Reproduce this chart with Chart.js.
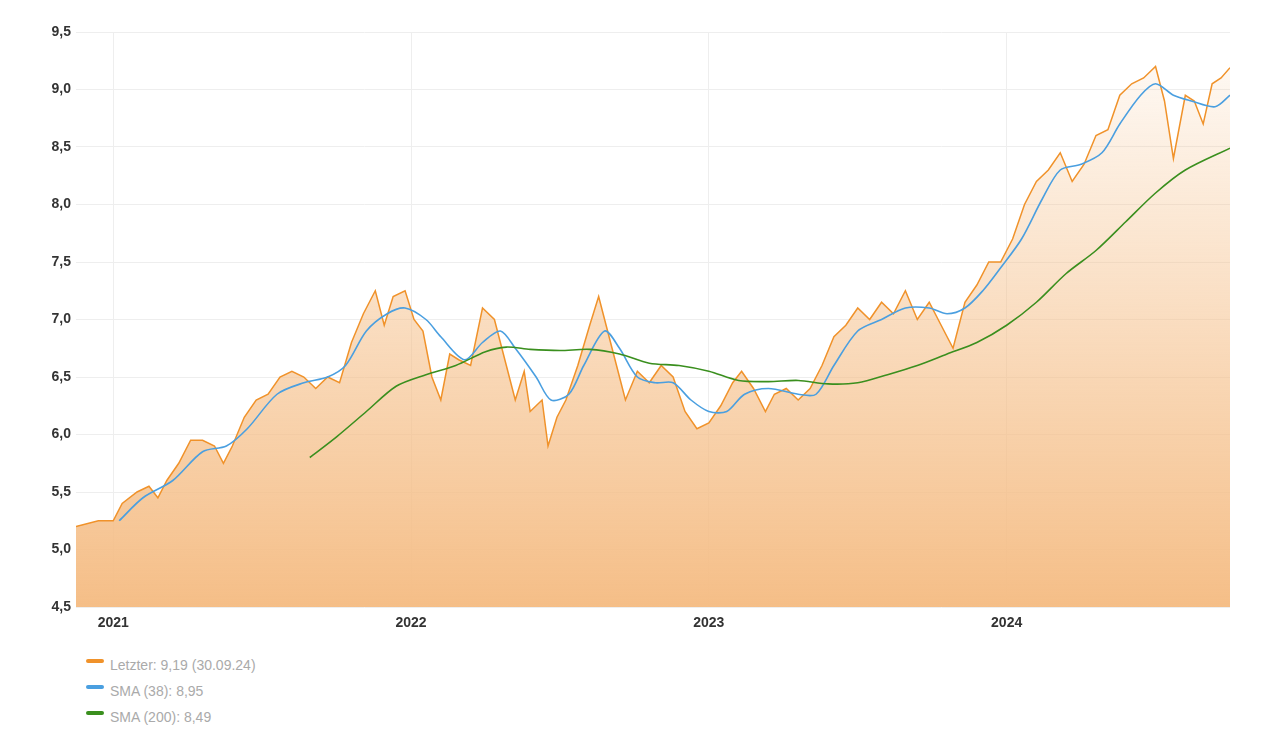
<!DOCTYPE html>
<html>
<head>
<meta charset="utf-8">
<script src="https://cdn.jsdelivr.net/npm/chart.js@4.4.0/dist/chart.umd.min.js"></script>
<style>
  body { margin: 0; background: #fff; font-family: "Liberation Sans", Arial, sans-serif; }
  #wrap { position: relative; width: 1280px; height: 632px; }
  #legend { margin-left: 86px; margin-top: 20px; color: #aaa; font-size: 14px; }
  #legend div { height: 26px; line-height: 26px; }
  #legend span { display: inline-block; width: 18px; height: 4px; border-radius: 2px; vertical-align: middle; margin-right: 6px; position: relative; top: -5px; }
</style>
</head>
<body>
<div id="wrap"><canvas id="chart"></canvas></div>
<div id="legend">
  <div><span style="background:#f0922a"></span>Letzter: 9,19 (30.09.24)</div>
  <div><span style="background:#4a9fe0"></span>SMA (38): 8,95</div>
  <div><span style="background:#3a8f1e"></span>SMA (200): 8,49</div>
</div>
<script>
const priceX = [2020.875,2020.95,2021.0,2021.03,2021.08,2021.12,2021.15,2021.18,2021.22,2021.26,2021.3,2021.34,2021.37,2021.40,2021.44,2021.48,2021.52,2021.56,2021.60,2021.64,2021.68,2021.72,2021.76,2021.80,2021.84,2021.88,2021.91,2021.94,2021.98,2022.01,2022.04,2022.07,2022.10,2022.13,2022.16,2022.20,2022.24,2022.28,2022.32,2022.35,2022.38,2022.40,2022.44,2022.46,2022.49,2022.52,2022.56,2022.60,2022.63,2022.66,2022.69,2022.72,2022.76,2022.80,2022.84,2022.88,2022.92,2022.96,2023.0,2023.04,2023.08,2023.11,2023.15,2023.19,2023.22,2023.26,2023.30,2023.34,2023.38,2023.42,2023.46,2023.50,2023.54,2023.58,2023.62,2023.66,2023.70,2023.74,2023.78,2023.82,2023.86,2023.90,2023.94,2023.98,2024.02,2024.06,2024.10,2024.14,2024.18,2024.22,2024.26,2024.30,2024.34,2024.38,2024.42,2024.46,2024.50,2024.53,2024.56,2024.60,2024.63,2024.66,2024.69,2024.72,2024.75];
const priceY = [5.2,5.25,5.25,5.4,5.5,5.55,5.45,5.6,5.75,5.95,5.95,5.9,5.75,5.9,6.15,6.3,6.35,6.5,6.55,6.5,6.4,6.5,6.45,6.8,7.05,7.25,6.95,7.2,7.25,7.0,6.9,6.5,6.3,6.7,6.65,6.6,7.1,7.0,6.6,6.3,6.55,6.2,6.3,5.9,6.15,6.3,6.6,6.95,7.2,6.9,6.6,6.3,6.55,6.45,6.6,6.5,6.2,6.05,6.1,6.25,6.45,6.55,6.4,6.2,6.35,6.4,6.3,6.4,6.6,6.85,6.95,7.1,7.0,7.15,7.05,7.25,7.0,7.15,6.95,6.75,7.15,7.3,7.5,7.5,7.7,8.0,8.2,8.3,8.45,8.2,8.35,8.6,8.65,8.95,9.05,9.1,9.2,8.9,8.4,8.95,8.9,8.7,9.05,9.1,9.19];
const sma38X = [2021.02,2021.1,2021.2,2021.3,2021.38,2021.45,2021.55,2021.64,2021.72,2021.78,2021.85,2021.92,2021.98,2022.05,2022.1,2022.18,2022.24,2022.3,2022.35,2022.42,2022.47,2022.53,2022.58,2022.65,2022.7,2022.76,2022.82,2022.88,2022.94,2023.0,2023.06,2023.12,2023.2,2023.3,2023.36,2023.42,2023.5,2023.58,2023.66,2023.74,2023.8,2023.86,2023.92,2023.98,2024.05,2024.12,2024.18,2024.25,2024.32,2024.38,2024.45,2024.5,2024.56,2024.62,2024.7,2024.75];
const sma38Y = [5.25,5.45,5.6,5.85,5.9,6.05,6.35,6.45,6.5,6.6,6.9,7.05,7.1,7.0,6.85,6.65,6.8,6.9,6.75,6.5,6.3,6.35,6.6,6.9,6.75,6.5,6.45,6.45,6.3,6.2,6.2,6.35,6.4,6.35,6.35,6.6,6.9,7.0,7.1,7.1,7.05,7.1,7.25,7.45,7.7,8.05,8.3,8.35,8.45,8.7,8.95,9.05,8.95,8.9,8.85,8.95];
const sma200X = [2021.66,2021.75,2021.85,2021.95,2022.05,2022.15,2022.25,2022.32,2022.4,2022.5,2022.6,2022.7,2022.8,2022.9,2023.0,2023.1,2023.2,2023.3,2023.4,2023.5,2023.6,2023.7,2023.8,2023.9,2024.0,2024.1,2024.2,2024.3,2024.4,2024.5,2024.6,2024.75];
const sma200Y = [5.8,5.98,6.2,6.42,6.52,6.6,6.72,6.76,6.74,6.73,6.74,6.7,6.62,6.6,6.55,6.47,6.46,6.47,6.44,6.45,6.52,6.6,6.7,6.8,6.95,7.15,7.4,7.6,7.85,8.1,8.3,8.49];
const yearTicks = [2021, 2022, 2023, 2024];

const pts = (xs, ys) => xs.map((x, i) => ({ x: x, y: ys[i] }));

const ctx = document.getElementById('chart').getContext('2d');
new Chart(ctx, {
    type: 'line',
    data: {
        datasets: [
            {
                data: pts(sma200X, sma200Y),
                borderColor: '#3a8f1e', borderWidth: 1.6, pointRadius: 0, tension: 0.3, fill: false
            },
            {
                data: pts(sma38X, sma38Y),
                borderColor: '#4a9fe0', borderWidth: 1.6, pointRadius: 0, tension: 0.3, fill: false
            },
            {
                data: pts(priceX, priceY),
                borderColor: '#f0922a', borderWidth: 1.5, pointRadius: 0, tension: 0,
                fill: 'start',
                backgroundColor: function (c) {
                    const a = c.chart.chartArea;
                    if (!a) return 'rgba(245,190,135,0.5)';
                    const g = c.chart.ctx.createLinearGradient(0, a.top, 0, a.bottom);
                    g.addColorStop(0, 'rgba(245,190,135,0.05)');
                    g.addColorStop(1, 'rgba(245,190,135,1)');
                    return g;
                }
            }
        ]
    },
    options: {
        responsive: true,
        maintainAspectRatio: false,
        animation: false,
        layout: { padding: { top: 32, right: 50, left: 0 } },
        plugins: { legend: { display: false }, tooltip: { enabled: false } },
        scales: {
            x: {
                type: 'linear', min: 2020.875, max: 2024.75,
                afterBuildTicks: function (ax) { ax.ticks = yearTicks.map(v => ({ value: v })); },
                afterFit: function (ax) { ax.height = 25; },
                ticks: { color: '#333', padding: 8, font: { size: 14, weight: 'bold' }, callback: v => String(v) },
                grid: { color: '#eee', drawTicks: false },
                border: { display: false }
            },
            y: {
                min: 4.5, max: 9.5,
                afterFit: function (ax) { ax.width = 76; },
                ticks: { stepSize: 0.5, color: '#333', padding: 5, font: { size: 14, weight: 'bold' },
                         callback: v => v.toFixed(1).replace('.', ',') },
                grid: { color: '#eee', drawTicks: false },
                border: { display: false }
            }
        }
    }
});
</script>
</body>
</html>
